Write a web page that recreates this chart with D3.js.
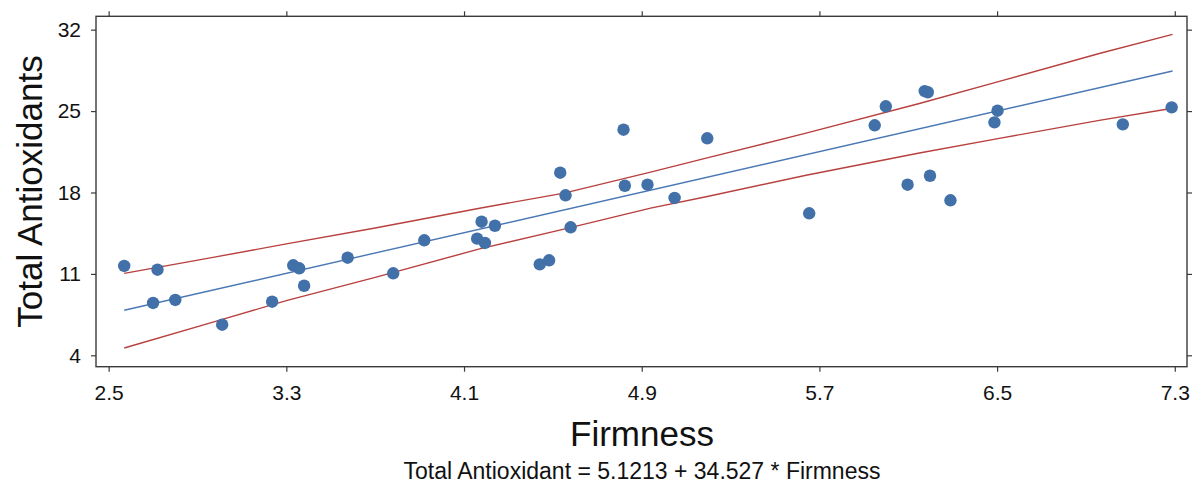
<!DOCTYPE html>
<html>
<head>
<meta charset="utf-8">
<script src="https://cdn.jsdelivr.net/npm/d3@7/dist/d3.min.js"></script>
<style>
  html, body { margin: 0; padding: 0; background: #fff; }
  svg { display: block; font-family: "Liberation Sans", Arial, sans-serif; }
</style>
</head>
<body>
<svg id="chart" width="1201" height="497"></svg>
<script>
// Observations: firmness vs total antioxidants
const firmness = [2.570, 2.720, 2.700, 2.800, 3.011, 3.236, 3.331, 3.358, 3.380, 3.576,
                  3.781, 3.921, 4.179, 4.239, 4.159, 4.194, 4.441, 4.483, 4.533, 4.557,
                  4.580, 4.818, 4.824, 4.926, 5.048, 5.195, 5.654, 5.949, 5.999, 6.097,
                  6.198, 6.290, 6.174, 6.188, 6.502, 6.488, 7.066, 7.286];
const antioxidants = [11.68, 11.36, 8.50, 8.76, 6.63, 8.61, 11.74, 11.48, 9.98, 12.39,
                      11.05, 13.89, 15.49, 15.14, 14.03, 13.66, 11.82, 12.17, 19.70, 17.76,
                      15.01, 23.40, 18.58, 18.67, 17.53, 22.66, 16.21, 23.78, 25.41, 18.67,
                      19.44, 17.33, 26.72, 26.62, 25.03, 24.03, 23.86, 25.32];

// Fitted line end points
const fitX = [2.57, 7.29];
const fitY = [7.87, 28.45];

// Confidence band
const bandX     = [2.57, 2.97, 3.30, 3.70, 4.17, 4.55, 4.94, 5.19, 5.64, 6.15, 6.51, 6.96, 7.29];
const bandUpper = [11.05, 12.42, 13.58, 14.95, 16.65, 17.95, 19.75, 20.95, 23.10, 25.65, 27.55, 29.95, 31.60];
const bandLower = [4.63, 6.85, 8.70, 10.70, 13.15, 14.85, 16.65, 17.63, 19.48, 21.40, 22.65, 24.20, 25.24];

const xTicks = [2.5, 3.3, 4.1, 4.9, 5.7, 6.5, 7.3];
const yTicks = [4, 11, 18, 25, 32];

const xTitle = "Firmness";
const yTitle = "Total Antioxidants";
const caption = "Total Antioxidant = 5.1213 + 34.527 * Firmness";

const svg = d3.select("#chart");
const plotLeft = 96, plotRight = 1187, plotTop = 16.3, plotBottom = 366.7;

const x = d3.scaleLinear().domain([2.443, 7.355]).range([plotLeft, plotRight]);
const y = d3.scaleLinear().domain([3.02, 33.15]).range([plotBottom, plotTop]);

const frameColor = "#3a3a3a";

// Axes
function styleAxis(g) {
  g.select(".domain").remove();
  g.selectAll(".tick line").attr("stroke", frameColor).attr("stroke-width", 1.2);
  g.selectAll(".tick text").attr("fill", "#111").style("font-size", "21px")
    .style("font-family", "'Liberation Sans', Arial, sans-serif");
}

svg.append("g").attr("transform", `translate(0,${plotBottom})`)
  .call(d3.axisBottom(x).tickValues(xTicks).tickFormat(d3.format(".1f")).tickSize(5).tickPadding(13).tickSizeOuter(0))
  .call(styleAxis);

svg.append("g").attr("transform", `translate(0,${plotTop})`)
  .call(d3.axisTop(x).tickValues(xTicks).tickFormat("").tickSize(5).tickSizeOuter(0))
  .call(styleAxis);

svg.append("g").attr("transform", `translate(${plotLeft},0)`)
  .call(d3.axisLeft(y).tickValues(yTicks).tickFormat(d3.format("d")).tickSize(5).tickPadding(10).tickSizeOuter(0))
  .call(styleAxis);

svg.append("g").attr("transform", `translate(${plotRight},0)`)
  .call(d3.axisRight(y).tickValues(yTicks).tickFormat("").tickSize(5).tickSizeOuter(0))
  .call(styleAxis);

// Plot frame
svg.append("rect")
  .attr("x", plotLeft).attr("y", plotTop)
  .attr("width", plotRight - plotLeft).attr("height", plotBottom - plotTop)
  .attr("fill", "none").attr("stroke", frameColor).attr("stroke-width", 1.4);

// Confidence band lines
const linePath = d3.line().x(d => x(d[0])).y(d => y(d[1]));
[bandUpper, bandLower].forEach(arr => {
  svg.append("path")
    .datum(bandX.map((v, i) => [v, arr[i]]))
    .attr("d", linePath)
    .attr("fill", "none").attr("stroke", "#b8403e").attr("stroke-width", 1.4);
});

// Fitted line
svg.append("path")
  .datum(fitX.map((v, i) => [v, fitY[i]]))
  .attr("d", linePath)
  .attr("fill", "none").attr("stroke", "#4a78b4").attr("stroke-width", 1.4);

// Points
svg.append("g").selectAll("circle")
  .data(firmness.map((v, i) => [v, antioxidants[i]]))
  .join("circle")
  .attr("cx", d => x(d[0])).attr("cy", d => y(d[1]))
  .attr("r", 6.2).attr("fill", "#4270a8");

// Titles
svg.append("text")
  .attr("x", 642).attr("y", 446)
  .attr("text-anchor", "middle").style("font-size", "35px").attr("fill", "#111")
  .text(xTitle);

svg.append("text")
  .attr("transform", "translate(41.5,191.5) rotate(-90)")
  .attr("text-anchor", "middle").style("font-size", "35px").attr("fill", "#111")
  .text(yTitle);

svg.append("text")
  .attr("x", 642).attr("y", 479)
  .attr("text-anchor", "middle").style("font-size", "23px").attr("fill", "#111")
  .text(caption);
</script>
</body>
</html>
